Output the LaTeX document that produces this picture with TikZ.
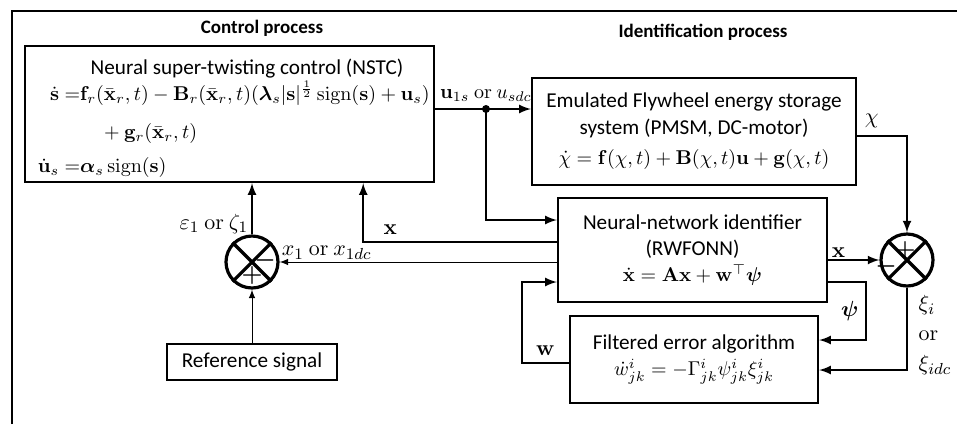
\documentclass[tikz,border=0pt]{standalone}
\usepackage{amsmath}
\usepackage{bm}
\usepackage[no-math]{fontspec}
\setmainfont{Carlito}
\usetikzlibrary{arrows}

\newcommand{\eqsize}{\fontsize{10}{12}\selectfont}

\begin{document}
\begin{tikzpicture}
	[x=0.5pt, y=-0.5pt, >=latex, line width=1pt,
	block/.style = {draw, line width=1.2pt, inner sep=0pt, font=\fontsize{10.6}{13.2}\selectfont},
	summer/.style = {draw, circle, line width=1.6pt, minimum size=26pt, inner sep=0pt},
	title/.style = {font=\fontsize{9.5}{11}\selectfont\bfseries},
	sign/.style = {inner sep=0pt, font=\large},
	lbl/.style = {font=\fontsize{11}{13}\selectfont}]
	\useasboundingbox (0,0) rectangle (957,424);
	% frame
	\draw (12,424) -- (12,11) -- (957,11);
	\node[title] (ctrl) at (262,28) {Control process};
	\node[title] (ident) at (703,32) {Identification process};
	% blocks
	\node[block, minimum width=204.5pt, minimum height=68pt] (nstc) at (229.5,114) {};
	\node[inner sep=0pt, font=\fontsize{10.6}{13.2}\selectfont] (nstctxt) at ([xshift=8.75pt, yshift=-12pt]nstc.north) {Neural super-twisting control (NSTC)};
	\node[anchor=west, inner sep=0pt, font=\fontsize{9.7}{11.6}\selectfont] (nstceq) at ([xshift=6.5pt, yshift=-8pt]nstc.west)
	{\setlength{\jot}{7.3pt}%
	$\begin{aligned}
	\dot{\mathbf s} =&\mathbf f_r(\bar{\mathbf x}_r,t)-\mathbf B_r(\bar{\mathbf x}_r,t)(\bm\lambda_s|\mathbf s|^{\frac12}\operatorname{sign}(\mathbf s)+\mathbf u_s)\\
	&\quad+\mathbf g_r(\bar{\mathbf x}_r,t)\\[-2pt]
	\dot{\mathbf u}_s =&\bm\alpha_s\operatorname{sign}(\mathbf s)
	\end{aligned}$};
	\node[block, minimum width=162pt, minimum height=53.5pt, align=center] (fly) at (694,131.5)
	{Emulated Flywheel energy storage\\ system (PMSM, DC-motor)\\[2pt]
	{\eqsize$\dot\chi=\mathbf f(\chi,t)+\mathbf B(\chi,t)\mathbf u+\mathbf g(\chi,t)$}};
	\node[block, minimum width=134.5pt, minimum height=52pt, align=center] (nn) at (692.5,250)
	{Neural-network identifier\\ (RWFONN)\\
	{\eqsize$\dot{\mathbf x} =\mathbf A\mathbf x+\mathbf w^{\top}\bm\psi$}};
	\node[block, minimum width=124pt, minimum height=43.5pt, align=center] (filt) at (694,359.5)
	{Filtered error algorithm\\
	{\eqsize$\dot w^i_{jk}=-\Gamma^i_{jk}\psi^i_{jk}\xi^i_{jk}$}};
	\node[block, minimum width=85pt, minimum height=18pt] (ref) at (252,362) {Reference signal};
	% summing junctions
	\node[summer] (sumL) at (252,262) {};
	\draw[line width=1.6pt] (sumL.north west) -- (sumL.south east) (sumL.north east) -- (sumL.south west);
	\node[sign] (sumLm) at ([xshift=6.5pt,yshift=1pt]sumL.center) {$\bm -$};
	\node[sign] (sumLp) at ([yshift=-6.5pt]sumL.center) {$\bm +$};
	\node[summer] (sumR) at (907,260) {};
	\draw[line width=1.6pt] (sumR.north west) -- (sumR.south east) (sumR.north east) -- (sumR.south west);
	\node[sign] (sumRp) at ([xshift=-1pt,yshift=5pt]sumR.center) {$\bm +$};
	\node[sign] (sumRm) at ([xshift=-10.5pt,yshift=-3pt]sumR.center) {$\bm -$};
	% connectors
	\coordinate (split) at (486,109);
	\draw[->] (nstc.east |- split) -- (split) node[above] {$\mathbf u_{1s}\ \mathrm{or}\ u_{sdc}$} -- (fly.west |- split);
	\fill (split) circle (2pt);
	\draw[->] (split) |- ([yshift=15pt]nn.west);
	\draw[->] ([yshift=4pt]nn.west) -| node[lbl, above, pos=0.43] {$\mathbf x$} ([xshift=-36pt]nstc.south east);
	\draw[->, line width=0.5pt] ([yshift=-6pt]nn.west) -- node[lbl, above, pos=0.83, inner sep=1pt] {$x_1\ \mathrm{or}\ x_{1dc}$} (sumL.east);
	\draw[->] (sumL.north) -- node[lbl, left, pos=0.2, inner sep=1.5pt] {$\varepsilon_1\ \mathrm{or}\ \zeta_1$} (sumL.north |- nstc.south);
	\draw[->, line width=0.5pt] (ref) -- (sumL.south);
	\draw[->] ([yshift=-2pt]fly.east) node[lbl, above right] {$\chi$} -| (sumR.north);
	\draw[->] ([yshift=-5pt]nn.east) -- node[lbl, above, pos=0.2, inner sep=1pt] {$\mathbf x$} (sumR.west);
	\draw[->] ([yshift=-16pt]nn.east) -- ++(19pt,0) |- node[lbl, pos=0.25, left] {$\bm\psi$} ([yshift=9.75pt]filt.east);
	\draw[->] (sumR.south) |- node[lbl, pos=0.29, right, xshift=2pt, align=left] {$\xi_i$\\[2pt] $\mathrm{or}$\\[2pt] $\xi_{idc}$} ([yshift=-5.25pt]filt.east);
	\draw[->] ([yshift=-1.75pt]filt.west) -- node[lbl, above] {$\mathbf w$} ++(-23.5pt,0) |- ([yshift=-16pt]nn.west);
\end{tikzpicture}
\end{document}
